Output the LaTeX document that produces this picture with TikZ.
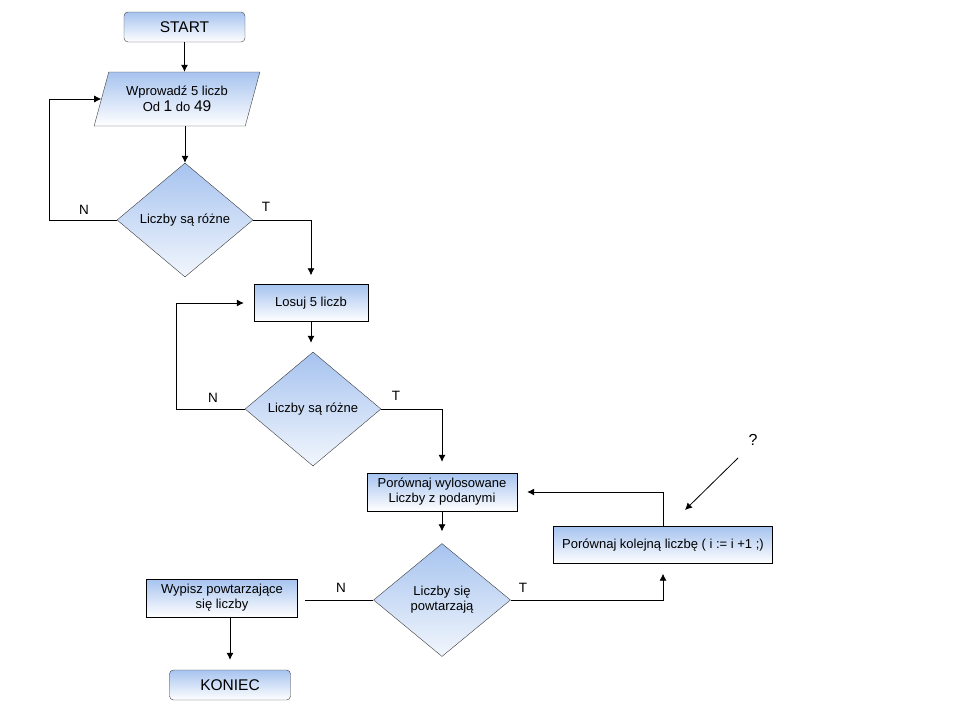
\documentclass[tikz,border=0pt]{standalone}
\usepackage{fontspec}
\setmainfont{Liberation Sans}
\usetikzlibrary{positioning,calc,arrows.meta,shapes.geometric}
\definecolor{fcblue}{HTML}{A6C3EF}
\definecolor{fcline}{HTML}{3C3C3C}

\begin{document}
\begin{tikzpicture}[x=1pt, y=-1pt,
  term/.style={draw=fcline, rounded corners=4pt, top color=fcblue, bottom color=white,
             minimum height=30pt, minimum width=121pt, inner sep=0pt,
             font=\fontsize{15.5}{17}\selectfont},
  proc/.style={draw=black, top color=fcblue, bottom color=white,
             minimum height=37pt, inner sep=0pt, align=center,
             font=\fontsize{13}{15}\selectfont},
  io/.style={draw=fcline, trapezium, trapezium left angle=67, trapezium right angle=113,
             trapezium stretches=true, top color=fcblue, bottom color=white,
             minimum height=54pt, minimum width=166pt, inner sep=0pt, align=center,
             font=\fontsize{13}{16}\selectfont},
  decision/.style={draw=fcline, diamond, top color=fcblue, bottom color=white!85!fcblue,
             minimum width=136pt, minimum height=114pt, inner sep=1pt, align=center,
             font=\fontsize{13}{15}\selectfont},
  lbl/.style={font=\fontsize{13.5}{15}\selectfont},
  edge/.style={line width=0.8pt, -{Latex[length=7pt,width=7pt]}},
  link/.style={line width=0.8pt},
]
\useasboundingbox (0,0) rectangle (960,720);

\node[term]     (start) at (184.5, 27)  {START};
\node[io]       (input) at (177, 99)    {Wprowadź 5 liczb\\Od {\fontsize{15.5}{15}\selectfont 1} do {\fontsize{15.5}{15}\selectfont 49}};
\node[decision] (diff1) at (185, 220)   {Liczby są różne};
\node[proc, minimum width=114pt] (rand) at (311, 303) {Losuj 5 liczb};
\node[decision] (diff2) at (313, 409)   {Liczby są różne};
\node[proc, minimum width=150pt, minimum height=38pt] (cmp) at (442, 492)
  {Porównaj wylosowane\\Liczby z podanymi};
\node[decision, minimum width=137pt, minimum height=113pt] (same) at (442, 600)
  {Liczby się\\powtarzają};
\node[proc, minimum width=219pt] (next) at (663, 545) {Porównaj kolejną liczbę ( i := i +1 ;)};
\node[proc, minimum width=151pt, minimum height=38pt] (print) at (222, 598)
  {Wypisz powtarzające\\się liczby};
\node[term]     (stop)  at (230, 685)   {KONIEC};

\draw[edge] (start.south) -- (start.south |- input.north);
\draw[edge] (diff1.north |- input.south) -- (diff1.north);
\draw[edge] (diff1.west) -- ++(-67,0) |- (input.west);
\draw[edge] (diff1.east) -| ([yshift=9]rand.north);
\draw[edge] (rand.south) -- ([yshift=9]rand.south |- diff2.north);
\draw[edge] (diff2.west) -- ++(-68,0) |- ([xshift=-10]rand.west);
\draw[edge] (diff2.east) -| ([yshift=11]cmp.north);
\draw[edge] (cmp.south) -- ([yshift=12]same.north);
\draw[edge] (same.east) -| ([yshift=-10]next.south);
\draw[edge] (next.north) |- ([xshift=10]cmp.east);
\draw[link] (same.west) -- ([xshift=7] print.east |- same.west);
\draw[edge] (stop.north |- print.south) -- ([yshift=10]stop.north);

% loose hint beside the loop
\node[font=\fontsize{16}{18}\selectfont] (q) at (753, 440) {?};
\coordinate (qa) at (738, 458);
\coordinate (qb) at (685, 510);
\draw[edge] (qa) -- (qb);

\node[lbl] at (84, 210)  {N};
\node[lbl] at (266, 207) {T};
\node[lbl] at (213, 398) {N};
\node[lbl] at (396, 396) {T};
\node[lbl] at (341, 588) {N};
\node[lbl] at (523, 588) {T};
\end{tikzpicture}
\end{document}
